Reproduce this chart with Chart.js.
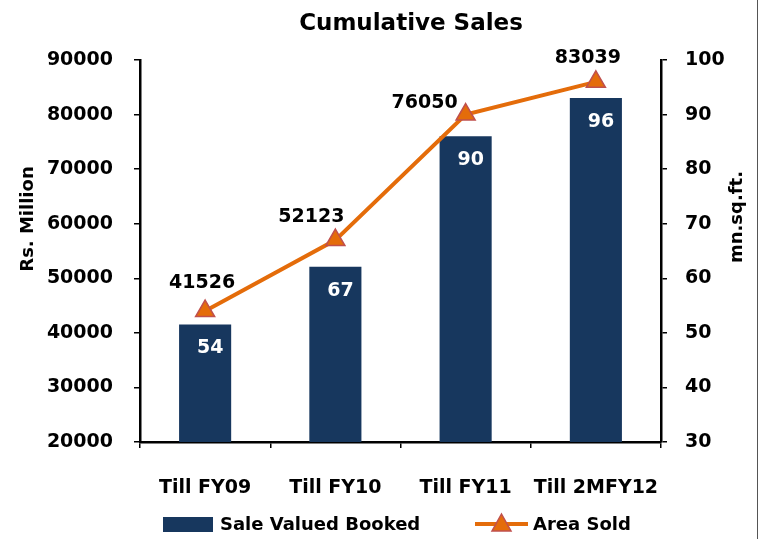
<!DOCTYPE html>
<html>
<head>
<meta charset="utf-8">
<script src="https://cdn.jsdelivr.net/npm/chart.js@4"></script>
<style>
  html, body { margin: 0; padding: 0; background: #fff; }
  #wrap { width: 759px; height: 539px; }
</style>
</head>
<body>
<div id="wrap"><canvas id="salesChart" width="759" height="539"></canvas></div>
<script>
// Chart data
var categories = ['Till FY09', 'Till FY10', 'Till FY11', 'Till 2MFY12'];
var saleValued = [41526, 52123, 76050, 83039];   // Rs. Million (left axis)
var areaSold = [54, 67, 90, 96];                  // mn.sq.ft. (right axis)

var barColor = '#17375E';
var lineColor = '#E46C0A';
var fontFamily = "'DejaVu Sans', sans-serif";

// label offsets for the bar value labels (relative to the triangle marker)
var valueLabelShift = [[-3, -28], [-24, -23], [-41, -12], [-8, -24]];

// Draw data labels, title, axis titles and legend
var extrasPlugin = {
    id: 'extras',
    afterDatasetsDraw: function(chart) {
        var ctx = chart.ctx;
        var barMeta = chart.getDatasetMeta(0);
        var lineMeta = chart.getDatasetMeta(1);
        ctx.save();
        ctx.font = 'bold 19px ' + fontFamily;
        ctx.textAlign = 'center';
        ctx.textBaseline = 'middle';
        for (var i = 0; i < categories.length; i++) {
            var bar = barMeta.data[i];
            var pt = lineMeta.data[i];
            // line value inside the bar
            ctx.fillStyle = '#ffffff';
            ctx.fillText(String(areaSold[i]), bar.x + 5, bar.y + 24);
            // bar value above the marker
            ctx.fillStyle = '#000000';
            ctx.fillText(String(saleValued[i]), pt.x + valueLabelShift[i][0], pt.y + valueLabelShift[i][1]);
        }
        ctx.restore();
    },
    afterDraw: function(chart) {
        var ctx = chart.ctx;
        ctx.save();
        ctx.fillStyle = '#000';
        ctx.textAlign = 'center';
        ctx.textBaseline = 'middle';

        // chart title
        ctx.font = 'bold 23px ' + fontFamily;
        ctx.fillText('Cumulative Sales', 411, 24);

        // axis titles
        ctx.font = 'bold 18px ' + fontFamily;
        ctx.save();
        ctx.translate(28, 219);
        ctx.rotate(-Math.PI / 2);
        ctx.fillText('Rs. Million', 0, 0);
        ctx.restore();

        ctx.save();
        ctx.translate(737, 217);
        ctx.rotate(-Math.PI / 2);
        ctx.fillText('mn.sq.ft.', 0, 0);
        ctx.restore();

        // legend
        ctx.textAlign = 'left';
        ctx.fillStyle = barColor;
        ctx.fillRect(163, 517, 50, 15);
        ctx.fillStyle = '#000';
        ctx.fillText('Sale Valued Booked', 220, 525);

        ctx.strokeStyle = lineColor;
        ctx.lineWidth = 4;
        ctx.beginPath();
        ctx.moveTo(475, 524);
        ctx.lineTo(528, 524);
        ctx.stroke();
        ctx.beginPath();
        ctx.moveTo(501.5, 514);
        ctx.lineTo(511, 531);
        ctx.lineTo(492, 531);
        ctx.closePath();
        ctx.fillStyle = lineColor;
        ctx.fill();
        ctx.strokeStyle = '#C0504D';
        ctx.lineWidth = 1.5;
        ctx.stroke();
        ctx.fillStyle = '#000';
        ctx.fillText('Area Sold', 533, 525);

        // frame edge on the right
        ctx.fillStyle = '#555';
        ctx.fillRect(757, 0, 1, 539);
        ctx.restore();
    }
};

var ctx = document.getElementById('salesChart').getContext('2d');
new Chart(ctx, {
    type: 'bar',
    data: {
        labels: categories,
        datasets: [{
            type: 'bar',
            label: 'Sale Valued Booked',
            data: saleValued,
            backgroundColor: barColor,
            borderWidth: 0,
            barPercentage: 0.4,
            categoryPercentage: 1.0,
            yAxisID: 'y',
            order: 2
        }, {
            type: 'line',
            label: 'Area Sold',
            data: areaSold,
            borderColor: lineColor,
            borderWidth: 4,
            tension: 0,
            pointStyle: 'triangle',
            pointRadius: 11,
            pointBackgroundColor: lineColor,
            pointBorderColor: '#C0504D',
            pointBorderWidth: 1.5,
            yAxisID: 'y1',
            order: 1
        }]
    },
    options: {
        responsive: false,
        animation: false,
        layout: { padding: { top: 60 } },
        plugins: {
            legend: { display: false },
            tooltip: { enabled: false },
            title: { display: false }
        },
        scales: {
            x: {
                grid: {
                    offset: true,
                    drawOnChartArea: false,
                    drawTicks: true,
                    tickLength: 6,
                    color: '#000',
                    lineWidth: 1.5
                },
                border: { display: true, color: '#000', width: 2.5 },
                ticks: {
                    color: '#000',
                    padding: 29,
                    maxRotation: 0,
                    font: { family: fontFamily, size: 19, weight: 'bold' }
                },
                afterFit: function(scale) { scale.height = 97; }
            },
            y: {
                position: 'left',
                min: 20000,
                max: 90000,
                grid: {
                    drawOnChartArea: false,
                    drawTicks: true,
                    tickLength: 6,
                    color: '#000',
                    lineWidth: 1.5
                },
                border: { display: true, color: '#000', width: 2.5 },
                ticks: {
                    stepSize: 10000,
                    color: '#000',
                    padding: 21,
                    font: { family: fontFamily, size: 19, weight: 'bold' },
                    callback: function(v) { return String(v); }
                },
                afterFit: function(scale) { scale.width = 140; }
            },
            y1: {
                position: 'right',
                min: 30,
                max: 100,
                grid: {
                    drawOnChartArea: false,
                    drawTicks: true,
                    tickLength: 6,
                    color: '#000',
                    lineWidth: 1.5
                },
                border: { display: true, color: '#000', width: 2.5 },
                ticks: {
                    stepSize: 10,
                    color: '#000',
                    padding: 18,
                    font: { family: fontFamily, size: 19, weight: 'bold' }
                },
                afterFit: function(scale) { scale.width = 98; }
            }
        }
    },
    plugins: [extrasPlugin]
});
</script>
</body>
</html>
